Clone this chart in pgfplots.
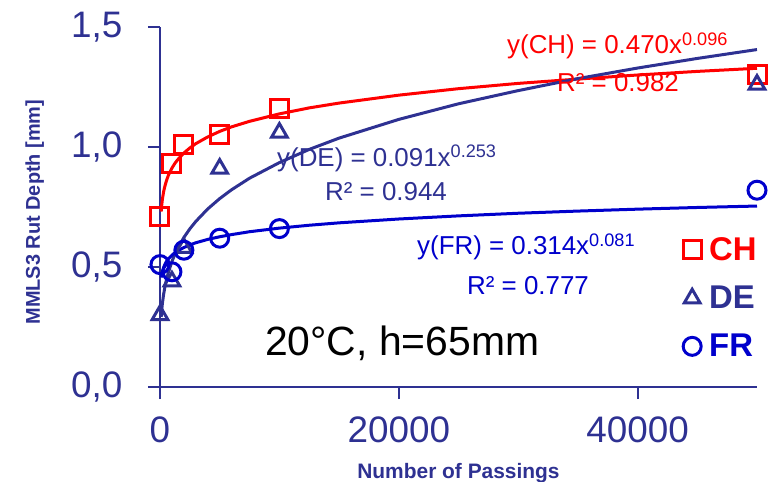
\documentclass[border=0pt]{standalone}
\usepackage{fontspec}
\setmainfont{Liberation Sans}
\usepackage{pgfplots}
\usepackage{pgfplotstable}
\pgfplotsset{compat=1.18}

\definecolor{navy}{RGB}{46,49,146}
\definecolor{frblue}{RGB}{0,0,204}
\definecolor{chred}{RGB}{255,0,0}

% measured rut depth [mm]
\pgfplotstableread{
x     ch   de   fr
0     0.71 0.30 0.51
1000  0.93 0.44 0.48
2000  1.01 0.58 0.57
5000  1.05 0.91 0.62
10000 1.16 1.06 0.66
50000 1.30 1.26 0.82
}\measured

% power trend lines
\pgfplotstableread{
x     ch    de    fr
100   0.731 0.292 0.456
150   0.760 0.323 0.471
200   0.782 0.348 0.482
300   0.813 0.385 0.498
400   0.835 0.414 0.510
550   0.861 0.449 0.524
700   0.882 0.477 0.534
1000  0.912 0.523 0.549
1250  0.932 0.553 0.560
1500  0.948 0.579 0.568
2000  0.975 0.623 0.581
2500  0.996 0.659 0.592
3000  1.014 0.690 0.601
4000  1.042 0.742 0.615
5000  1.065 0.785 0.626
6000  1.084 0.822 0.635
7500  1.107 0.870 0.647
10000 1.138 0.935 0.662
12500 1.163 0.990 0.674
15000 1.183 1.037 0.684
20000 1.216 1.115 0.700
25000 1.243 1.180 0.713
30000 1.265 1.235 0.724
35000 1.283 1.285 0.733
40000 1.300 1.329 0.741
45000 1.315 1.369 0.748
50000 1.328 1.406 0.754
}\trend

\begin{document}
\begin{tikzpicture}
\path[use as bounding box] (-160bp,-95bp) rectangle (610bp,387bp);
\begin{axis}[
    scale only axis,
    width=597bp, height=360bp,
    xmin=0, xmax=50000, ymin=0, ymax=1.5,
    axis lines=left,
    axis line style={draw=navy, line width=2.6bp, -},
    every tick/.style={draw=navy, line width=2bp},
    tick align=outside, major tick length=12bp,
    xtick={0,20000,40000}, ytick={0,0.5,1,1.5},
    scaled x ticks=false,
    /pgf/number format/assume math mode=true,
    xticklabel style={/pgf/number format/1000 sep={}, font=\fontsize{37}{40}\selectfont, text=navy, yshift=-14bp},
    yticklabel style={/pgf/number format/.cd, use comma, fixed, fixed zerofill, precision=1, /tikz/.cd,
        font=\fontsize{37}{40}\selectfont, text=navy, xshift=-22bp},
    xlabel={\textbf{Number of Passings}},
    ylabel={\textbf{MMLS3 Rut Depth [mm]}},
    xlabel style={font=\fontsize{21}{24}\selectfont, text=navy, at={(axis description cs:0.5,-0.238)}, anchor=center},
    ylabel style={font=\fontsize{20}{24}\selectfont, text=navy, at={(axis description cs:-0.21,0.486)}, anchor=center},
    clip=false,
    legend style={draw=none, fill=none, at={(axis description cs:0.876,0.247)}, anchor=west,
        font=\fontsize{33}{36}\selectfont\bfseries, row sep=20bp, inner sep=0pt,
        nodes={inner xsep=8bp}},
    legend cell align=left,
    legend image code/.code={\draw[#1] (0.2cm,0cm) -- plot coordinates {(0.2cm,0cm)};},
]
\addplot[chred, line width=3bp, forget plot] table[x=x, y=ch] {\trend};
\addplot[navy, line width=3bp, forget plot] table[x=x, y=de] {\trend};
\addplot[frblue, line width=3bp, forget plot] table[x=x, y=fr] {\trend};

\addplot[only marks, mark=square, mark size=9bp, chred, line width=3bp] table[x=x, y=ch] {\measured};
\addlegendentry{\textcolor{chred}{CH}}
\addplot[only marks, mark=triangle, mark size=9bp, navy, line width=3bp] table[x=x, y=de] {\measured};
\addlegendentry{\textcolor{navy}{DE}}
\addplot[only marks, mark=o, mark size=9bp, frblue, line width=3bp] table[x=x, y=fr] {\measured};
\addlegendentry{\textcolor{frblue}{FR}}

\node[anchor=base west, text=chred, font=\fontsize{26}{28}\selectfont, inner sep=0pt] at (axis cs:29062,1.3875) {y(CH) = 0.470x\textsuperscript{0.096}};
\node[anchor=base west, text=chred, font=\fontsize{26}{28}\selectfont, inner sep=0pt] at (axis cs:33250,1.233) {R² = 0.982};
\node[anchor=base west, text=navy, font=\fontsize{26}{28}\selectfont, inner sep=0pt] at (axis cs:9800,0.917) {y(DE) = 0.091x\textsuperscript{0.253}};
\node[anchor=base west, text=navy, font=\fontsize{26}{28}\selectfont, inner sep=0pt] at (axis cs:13819,0.779) {R² = 0.944};
\node[anchor=base west, text=frblue, font=\fontsize{26}{28}\selectfont, inner sep=0pt] at (axis cs:21524,0.55) {y(FR) = 0.314x\textsuperscript{0.081}};
\node[anchor=base west, text=frblue, font=\fontsize{26}{28}\selectfont, inner sep=0pt] at (axis cs:25712,0.3875) {R² = 0.777};
\node[anchor=base west, text=black, font=\fontsize{41}{44}\selectfont, inner sep=0pt] at (axis cs:8794,0.133) {20°C, h=65mm};
\end{axis}
\end{tikzpicture}
\end{document}
